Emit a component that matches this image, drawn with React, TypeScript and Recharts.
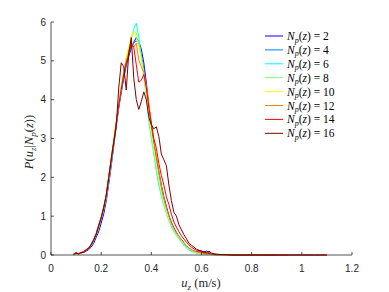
import { LineChart, Line, XAxis, YAxis, Legend } from "recharts"

// bin centres (m/s)
const U = [
  0.08, 0.09, 0.1, 0.11, 0.12, 0.13, 0.14, 0.15, 0.16, 0.17,
  0.18, 0.19, 0.2, 0.21, 0.22, 0.23, 0.24, 0.25, 0.26, 0.27,
  0.28, 0.29, 0.3, 0.31, 0.32, 0.33, 0.34, 0.35, 0.36, 0.37,
  0.38, 0.39, 0.4, 0.41, 0.42, 0.43, 0.44, 0.45, 0.46, 0.47,
  0.48, 0.49, 0.5, 0.51, 0.52, 0.53, 0.54, 0.55, 0.56, 0.57,
  0.58, 0.59, 0.6, 0.61, 0.62, 0.63, 0.64, 0.65, 0.66,
  0.68, 0.7, 0.72, 0.75, 0.8, 0.85, 0.9, 0.95, 1.0, 1.05, 1.1,
]

const N2 = [
  null, 0.02, 0.05, 0.03, 0.05, 0.07, 0.1, 0.14, 0.2, 0.3,
  0.45, 0.6, 0.82, 1.05, 1.38, 1.82, 2.28, 2.8, 3.3, 3.78,
  4.18, 4.55, 4.88, 5.12, 5.32, 5.48, 5.6, 5.5, 5.3, 4.95,
  4.45, 3.85, 3.3, 2.85, 2.5, 2.15, 1.8, 1.5, 1.25, 1.02,
  0.84, 0.7, 0.58, 0.48, 0.4, 0.31, 0.24, 0.18, 0.13, 0.1,
  0.09, 0.12, 0.1, 0.08, 0.1, 0.06, 0.03, 0.02, 0.01,
  0.01, 0, 0, 0, 0, 0, 0, null, null, null, null,
]
const N4 = [
  null, 0.03, 0.04, 0.04, 0.06, 0.08, 0.12, 0.17, 0.25, 0.37,
  0.52, 0.72, 0.9, 1.16, 1.46, 1.9, 2.36, 2.88, 3.36, 3.82,
  4.22, 4.6, 4.92, 5.18, 5.36, 5.46, 5.52, 5.42, 5.15, 4.8,
  4.3, 3.72, 3.2, 2.78, 2.38, 2.02, 1.68, 1.4, 1.16, 0.95,
  0.78, 0.64, 0.54, 0.45, 0.37, 0.29, 0.22, 0.16, 0.12, 0.09,
  0.07, 0.05, 0.04, 0.04, 0.03, 0.02, 0.02, 0.01, 0.01,
  0.01, 0, 0, 0, 0, 0, null, null, null, null, null,
]
const N6 = [
  null, null, 0.03, 0.04, 0.06, 0.09, 0.12, 0.16, 0.24, 0.36,
  0.5, 0.7, 0.92, 1.15, 1.46, 1.9, 2.36, 2.86, 3.38, 3.85,
  4.25, 4.68, 5.05, 5.32, 5.58, 5.82, 5.97, 5.62, 5.12, 4.65,
  4.08, 3.45, 3.0, 2.6, 2.15, 1.8, 1.5, 1.28, 1.08, 0.88,
  0.72, 0.6, 0.5, 0.42, 0.33, 0.25, 0.18, 0.13, 0.09, 0.07,
  0.05, 0.04, 0.03, 0.03, 0.02, 0.02, 0.01, 0.01, 0,
  0, 0, 0, 0, 0, null, null, null, null, null, null,
]
const N8 = [
  null, 0.02, 0.04, 0.03, 0.06, 0.08, 0.13, 0.17, 0.26, 0.38,
  0.53, 0.74, 0.95, 1.2, 1.5, 1.95, 2.42, 2.92, 3.4, 3.88,
  4.3, 4.7, 5.05, 5.3, 5.55, 5.78, 5.72, 5.45, 5.05, 4.6,
  4.1, 3.55, 3.05, 2.65, 2.25, 1.88, 1.55, 1.3, 1.1, 0.9,
  0.75, 0.62, 0.52, 0.43, 0.35, 0.27, 0.2, 0.15, 0.11, 0.08,
  0.06, 0.05, 0.04, 0.03, 0.03, 0.02, 0.01, 0.01, 0.01,
  0, 0, 0, 0, 0, 0, null, null, null, null, null,
]
const N10 = [
  null, 0.03, 0.05, 0.04, 0.07, 0.09, 0.13, 0.18, 0.27, 0.4,
  0.55, 0.76, 0.97, 1.22, 1.55, 2.0, 2.48, 2.98, 3.45, 3.92,
  4.35, 4.75, 5.1, 5.38, 5.62, 5.76, 5.58, 5.35, 5.05, 4.68,
  4.2, 3.65, 3.15, 2.75, 2.35, 1.98, 1.62, 1.36, 1.14, 0.93,
  0.78, 0.65, 0.54, 0.46, 0.38, 0.3, 0.23, 0.17, 0.12, 0.09,
  0.07, 0.05, 0.04, 0.03, 0.03, 0.02, 0.02, 0.01, 0.01,
  0, 0, 0, 0, 0, 0, 0, null, null, null, null,
]
const N12 = [
  null, 0.02, 0.06, 0.03, 0.05, 0.1, 0.12, 0.17, 0.28, 0.39,
  0.56, 0.78, 0.98, 1.25, 1.52, 2.02, 2.5, 2.95, 3.4, 3.9,
  4.3, 4.7, 5.0, 5.22, 5.48, 5.35, 5.45, 5.02, 4.85, 4.7,
  4.35, 3.9, 3.4, 2.95, 2.55, 2.15, 1.78, 1.48, 1.22, 1.0,
  0.82, 0.68, 0.57, 0.48, 0.4, 0.31, 0.24, 0.18, 0.13, 0.1,
  0.08, 0.06, 0.05, 0.04, 0.03, 0.03, 0.02, 0.01, 0.01,
  0.01, 0, 0, 0, 0, 0, 0, 0, null, null, null,
]
const N14 = [
  null, 0.01, 0.07, 0.02, 0.06, 0.09, 0.14, 0.18, 0.27, 0.4,
  0.55, 0.76, 0.96, 1.2, 1.55, 2.0, 2.45, 2.9, 3.4, 3.85,
  4.25, 4.65, 4.95, 5.15, 5.45, 5.35, 4.9, 4.45, 4.5, 4.65,
  4.3, 3.8, 3.4, 3.0, 2.75, 2.35, 2.05, 1.8, 1.5, 1.3,
  1.05, 0.85, 0.72, 0.6, 0.5, 0.41, 0.33, 0.26, 0.2, 0.16,
  0.12, 0.09, 0.07, 0.06, 0.05, 0.04, 0.03, 0.02, 0.02,
  0.01, 0.01, 0, 0, 0, 0, 0, 0, 0, 0, 0,
]
const N16 = [
  null, 0.02, 0.04, 0.03, 0.07, 0.06, 0.12, 0.17, 0.26, 0.38,
  0.52, 0.74, 0.95, 1.22, 1.52, 1.98, 2.45, 2.9, 3.3, 4.3,
  4.95, 4.85, 4.25, 5.2, 5.6, 4.55, 4.0, 3.75, 3.95, 4.2,
  4.0, 3.55, 3.35, 3.25, 3.3, 3.05, 2.6, 2.45, 2.3, 1.8,
  1.4, 1.1, 1.0, 0.78, 0.65, 0.52, 0.42, 0.3, 0.25, 0.2,
  0.15, 0.12, 0.1, 0.08, 0.06, 0.1, 0.05, 0.03, 0.02,
  0.01, 0.01, 0, 0, 0, 0, 0, 0, 0, 0, 0,
]

const NP = [2, 4, 6, 8, 10, 12, 14, 16]
const SERIES = [N2, N4, N6, N8, N10, N12, N14, N16]
// jet(8)
const COLORS = ["#0000ff", "#0080ff", "#00ffff", "#80ff80", "#ffff00", "#ff8000", "#ff0000", "#800000"]

const X_TICKS = [0, 0.2, 0.4, 0.6, 0.8, 1, 1.2]
const Y_TICKS = [0, 1, 2, 3, 4, 5, 6]

const data = U.map((u, i) => {
  const row: Record<string, number | null> = { u }
  SERIES.forEach((s, k) => (row["n" + NP[k]] = s[i]))
  return row
})

const AXIS = "#262626"
const SANS = "'Liberation Sans', Arial, sans-serif"
const SERIF = "'Liberation Serif', 'Times New Roman', serif"
const TICK_LEN = 3

const BottomTick = ({ x, y, payload }: any) => (
  <g>
    <line x1={x} x2={x} y1={y} y2={y - TICK_LEN} stroke={AXIS} strokeWidth={0.8} />
    <text x={x} y={y + 17} textAnchor="middle" fontSize={10} fontFamily={SANS} fill={AXIS}>
      {String(payload.value)}
    </text>
  </g>
)
const TopTick = ({ x, y }: any) => (
  <line x1={x} x2={x} y1={y} y2={y + TICK_LEN} stroke={AXIS} strokeWidth={0.8} />
)
const LeftTick = ({ x, y, payload }: any) => (
  <g>
    <line x1={x} x2={x + TICK_LEN} y1={y} y2={y} stroke={AXIS} strokeWidth={0.8} />
    <text x={x - 5} y={y + 3.5} textAnchor="end" fontSize={10} fontFamily={SANS} fill={AXIS}>
      {String(payload.value)}
    </text>
  </g>
)
const RightTick = ({ x, y }: any) => (
  <line x1={x} x2={x - TICK_LEN} y1={y} y2={y} stroke={AXIS} strokeWidth={0.8} />
)

const renderLegend = () => (
  <svg width={92} height={116}>
    {NP.map((n, i) => {
      const y = 8 + i * 13.9
      return (
        <g key={n}>
          <line x1={3} x2={21} y1={y} y2={y} stroke={COLORS[i]} strokeWidth={1} />
          <text x={25} y={y + 4} fontSize={11.5} fontFamily={SERIF} fill="#000">
            <tspan fontStyle="italic">N</tspan>
            <tspan fontStyle="italic" fontSize={8} dy={2.5}>p</tspan>
            <tspan dy={-2.5}>(</tspan>
            <tspan fontStyle="italic">z</tspan>
            <tspan>{") = " + n}</tspan>
          </text>
        </g>
      )
    })}
  </svg>
)

export default function App() {
  return (
    <div style={{ position: "absolute", left: 0, top: 0, width: 389, height: 292, background: "#fff" }}>
      <LineChart width={389} height={292} data={data} margin={{ top: 22, right: 37, bottom: 0, left: 0 }}>
        <XAxis
          xAxisId={0}
          dataKey="u"
          type="number"
          domain={[0, 1.2]}
          ticks={X_TICKS}
          height={37}
          tickSize={0}
          tickMargin={0}
          tickLine={false}
          stroke={AXIS}
          strokeWidth={0.8}
          tick={<BottomTick />}
        />
        <XAxis
          xAxisId="top"
          orientation="top"
          dataKey="u"
          type="number"
          domain={[0, 1.2]}
          ticks={X_TICKS}
          height={0}
          tickSize={0}
          tickMargin={0}
          tickLine={false}
          stroke={AXIS}
          strokeWidth={0.8}
          tick={<TopTick />}
        />
        <YAxis
          yAxisId={0}
          type="number"
          domain={[0, 6]}
          ticks={Y_TICKS}
          width={51}
          tickSize={0}
          tickMargin={0}
          tickLine={false}
          stroke={AXIS}
          strokeWidth={0.8}
          tick={<LeftTick />}
        />
        <YAxis
          yAxisId="right"
          orientation="right"
          type="number"
          domain={[0, 6]}
          ticks={Y_TICKS}
          width={0}
          tickSize={0}
          tickMargin={0}
          tickLine={false}
          stroke={AXIS}
          strokeWidth={0.8}
          tick={<RightTick />}
        />
        {NP.map((n, i) => (
          <Line
            key={n}
            xAxisId={0}
            yAxisId={0}
            type="linear"
            dataKey={"n" + n}
            name={"Np(z) = " + n}
            stroke={COLORS[i]}
            strokeWidth={1}
            dot={false}
            activeDot={false}
            isAnimationActive={false}
          />
        ))}
        <Legend
          layout="horizontal"
          verticalAlign="middle"
          align="center"
          content={renderLegend}
          wrapperStyle={{ position: "absolute", left: 262, top: 28, width: 92, height: 116 }}
        />
        <text x={201} y={287} textAnchor="middle" fontSize={12.5} fontFamily={SERIF} fill={AXIS}>
          <tspan fontStyle="italic">u</tspan>
          <tspan fontStyle="italic" fontSize={9} dy={2.5}>z</tspan>
          <tspan dy={-2.5}>{" (m/s)"}</tspan>
        </text>
        <text
          transform="translate(33,142) rotate(-90)"
          textAnchor="middle"
          fontSize={12.5}
          fontFamily={SERIF}
          fill={AXIS}
        >
          <tspan fontStyle="italic">P</tspan>
          <tspan>(</tspan>
          <tspan fontStyle="italic">u</tspan>
          <tspan fontStyle="italic" fontSize={9} dy={2.5}>z</tspan>
          <tspan dy={-2.5}>|</tspan>
          <tspan fontStyle="italic">N</tspan>
          <tspan fontStyle="italic" fontSize={9} dy={2.5}>p</tspan>
          <tspan dy={-2.5}>(</tspan>
          <tspan fontStyle="italic">z</tspan>
          <tspan>))</tspan>
        </text>
      </LineChart>
    </div>
  )
}
